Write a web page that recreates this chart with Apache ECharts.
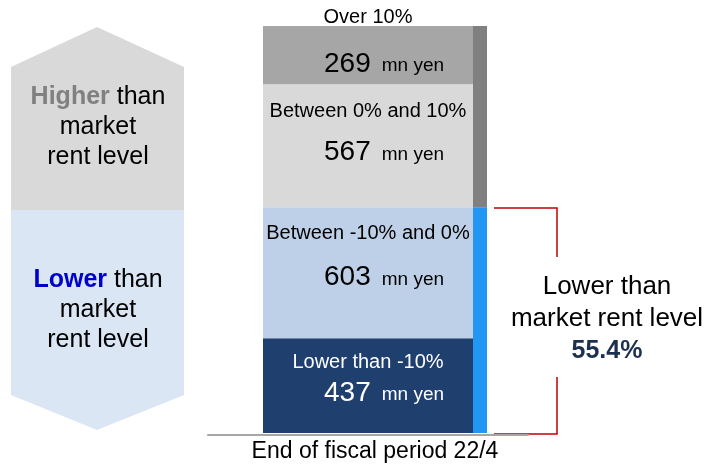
<!DOCTYPE html>
<html>
<head>
<meta charset="utf-8">
<script src="https://cdn.jsdelivr.net/npm/echarts@6/dist/echarts.min.js"></script>
<style>
  html, body { margin: 0; padding: 0; background: #fff; }
  #main { width: 704px; height: 466px; }
</style>
</head>
<body>
<div id="main"></div>
<script>
// data
const period = ["End of fiscal period 22/4"];
const bandNames = ["Lower than -10%", "Between -10% and 0%", "Between 0% and 10%", "Over 10%"];
const bandValues = [437, 603, 567, 269]; // mn yen, bottom to top
const sideNames = ["Lower than market rent level", "Higher than market rent level"];
const sideValues = [437 + 603, 567 + 269];
const lowerShare = "55.4%";

const total = bandValues.reduce((a, b) => a + b, 0);

const FONT = "Liberation Sans, Arial, sans-serif";
const bandColors = ["#1f3f6e", "#bed0e8", "#d9d9d9", "#a6a6a6"];
const sideColors = ["#2196f3", "#808080"];
// label layout per band: [offset from segment top, gap between the two lines]
const labelLayout = [[12, 31], [14, 44], [15, 41], [-21, 47]];

const chart = echarts.init(document.getElementById("main"));

const bandSeries = bandValues.map((v, i) => {
    const [dy, gap] = labelLayout[i];
    const txt = i === 0 ? "#fff" : "#000";
    return {
        name: bandNames[i],
        type: "bar",
        stack: "band",
        xAxisIndex: 1,
        yAxisIndex: 1,
        barWidth: 210,
        barGap: "0%",
        data: [v],
        itemStyle: { color: bandColors[i] },
        label: {
            show: true,
            position: ["50%", dy],
            align: "center",
            verticalAlign: "top",
            fontFamily: FONT,
            formatter: () => "{c|" + bandNames[i] + "}\n{n|" + v + "}{u|mn yen}",
            rich: {
                c: { fontSize: 20, lineHeight: 24, color: txt, fontFamily: FONT },
                n: { fontSize: 28, lineHeight: 2 * (gap - 12), color: txt, fontFamily: FONT, padding: [0, 0, 0, 32] },
                u: { fontSize: 19, lineHeight: 2 * (gap - 12), color: txt, fontFamily: FONT, padding: [4, 0, 0, 11] },
            },
        },
        emphasis: { disabled: true },
    };
});

const sideSeries = sideValues.map((v, i) => ({
    name: sideNames[i],
    type: "bar",
    stack: "side",
    xAxisIndex: 1,
    yAxisIndex: 1,
    barWidth: 14,
    data: [v],
    itemStyle: { color: sideColors[i] },
    emphasis: { disabled: true },
}));

chart.setOption({
    animation: false,
    backgroundColor: "#fff",
    grid: [
        // axis baseline only
        { left: 208, right: 176, top: 26, bottom: 31 },
        // bars
        { left: 215, right: 169, top: 26, bottom: 33 },
    ],
    xAxis: [
        {
            type: "category",
            gridIndex: 0,
            data: [""],
            axisLine: { lineStyle: { color: "#a6a6a6", width: 2 } },
            axisTick: { show: false },
            axisLabel: { show: false },
        },
        {
            type: "category",
            gridIndex: 1,
            data: period,
            axisLine: { show: false },
            axisTick: { show: false },
            axisLabel: { fontSize: 23, color: "#000", fontFamily: FONT, margin: 7 },
        },
    ],
    yAxis: [
        { type: "value", gridIndex: 0, show: false },
        { type: "value", gridIndex: 1, show: false, min: 0, max: total },
    ],
    series: [...bandSeries, ...sideSeries],
    graphic: [
        // left hexagon, upper half
        {
            type: "polygon",
            shape: { points: [[97, 27], [184, 67], [184, 210], [11, 210], [11, 67]] },
            style: { fill: "#d9d9d9" },
            silent: true,
        },
        // left hexagon, lower half
        {
            type: "polygon",
            shape: { points: [[11, 210], [184, 210], [184, 395], [97, 430], [11, 395]] },
            style: { fill: "#dae6f4" },
            silent: true,
        },
        {
            type: "text",
            x: 98,
            y: 127,
            style: {
                text: "{h|Higher} than\nmarket\nrent level",
                fontSize: 25,
                fontFamily: FONT,
                fill: "#000",
                align: "center",
                verticalAlign: "middle",
                lineHeight: 30,
                rich: {
                    h: { fontSize: 25, fontWeight: "bold", fill: "#808080", fontFamily: FONT, lineHeight: 30 },
                },
            },
            silent: true,
        },
        {
            type: "text",
            x: 98,
            y: 310,
            style: {
                text: "{l|Lower} than\nmarket\nrent level",
                fontSize: 25,
                fontFamily: FONT,
                fill: "#000",
                align: "center",
                verticalAlign: "middle",
                lineHeight: 30,
                rich: {
                    l: { fontSize: 25, fontWeight: "bold", fill: "#0000cc", fontFamily: FONT, lineHeight: 30 },
                },
            },
            silent: true,
        },
        // red bracket
        {
            type: "polyline",
            shape: { points: [[494, 208], [557, 208], [557, 257]] },
            style: { stroke: "#c00000", lineWidth: 1.5, fill: null },
            silent: true,
        },
        {
            type: "polyline",
            shape: { points: [[557, 377], [557, 434], [494, 434]] },
            style: { stroke: "#c00000", lineWidth: 1.5, fill: null },
            silent: true,
        },
        {
            type: "text",
            x: 607,
            y: 319,
            style: {
                text: "Lower than\nmarket rent level\n{p|" + lowerShare + "}",
                fontSize: 26,
                fontFamily: FONT,
                fill: "#000",
                align: "center",
                verticalAlign: "middle",
                lineHeight: 32,
                rich: {
                    p: { fontSize: 25, fontWeight: "bold", fill: "#1b2f4f", fontFamily: FONT, lineHeight: 32 },
                },
            },
            silent: true,
        },
    ],
});

window.addEventListener("resize", () => chart.resize());
</script>
</body>
</html>
